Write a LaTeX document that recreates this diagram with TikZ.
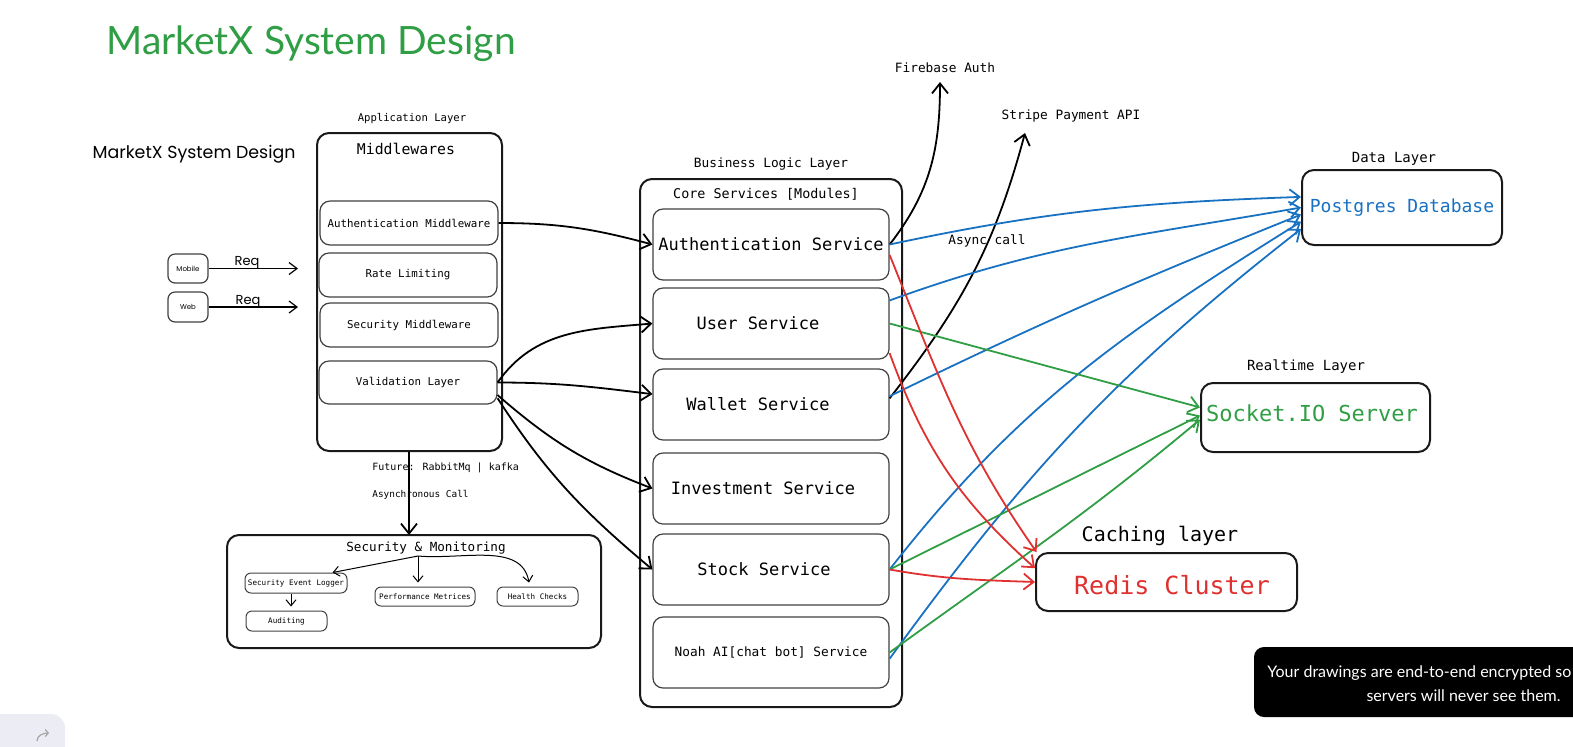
\documentclass[tikz,border=0pt]{standalone}
\usepackage{fontspec}
\setmainfont{DejaVu Sans Mono}
\newfontfamily\titlefont{Lato}
\newfontfamily\handfont{Poppins}
\newfontfamily\uifont{Lato}
\usetikzlibrary{arrows.meta}
\definecolor{exgreen}{HTML}{2F9E44}
\definecolor{exblue}{HTML}{1971C2}
\definecolor{exred}{HTML}{E03131}
\definecolor{panel}{HTML}{ECECF4}
\newcommand{\fsz}[1]{\fontsize{#1}{#1}\selectfont}
\tikzset{
  outer/.style={draw=black!90, line width=1pt, rounded corners=6pt, inner sep=0pt},
  inbox/.style={draw=black!75, line width=0.6pt, rounded corners=5pt, inner sep=0pt},
  svc/.style={inbox, minimum width=118pt, minimum height=35.5pt, font=\fsz{8.5}},
  midbox/.style={inbox, minimum width=89pt, minimum height=22pt, font=\fsz{5.4}},
  tinybox/.style={draw=black!75, line width=0.5pt, rounded corners=3pt, inner sep=0pt, font=\fsz{3.8}},
  client/.style={draw=black!75, line width=0.6pt, rounded corners=3.5pt, inner sep=0pt, font=\handfont\fsz{3.5}},
  lbl/.style={inner sep=0pt, yshift=-1pt},
  arr/.style={line width=0.9pt, -{Straight Barb[length=5pt,width=8pt]}},
  sarr/.style={line width=0.5pt, -{Straight Barb[length=3pt,width=5pt]}},
  blarr/.style={arr, draw=exblue},
  grarr/.style={arr, draw=exgreen},
  rdarr/.style={arr, draw=exred},
}
\begin{document}
\begin{tikzpicture}[x=0.5pt, y=-0.5pt]
\useasboundingbox (0,0) rectangle (1573,746);

% UI overlays
\begin{scope}
  \clip (0,0) rectangle (1573,746);
  \fill[black, rounded corners=5pt] (1254,647) rectangle (1620,717);
  \fill[panel, rounded corners=7pt] (-20,714) rectangle (65,780);
\end{scope}
\node[lbl, text=white, font=\uifont\fsz{8}, anchor=west] (toasta) at (1267,671) {Your drawings are end-to-end encrypted so};
\node[lbl, text=white, font=\uifont\fsz{8}, anchor=east] (toastb) at (1561,694) {servers will never see them.};
\coordinate (redoa) at (37,741);
\coordinate (redob) at (49,733);
\draw[black!35, line width=0.6pt, -{Straight Barb[length=1.5pt,width=3.5pt]}] (redoa) to[out=90,in=180] (redob);

% titles
\node[lbl, text=exgreen, font=\titlefont\fsz{19.5}] (title) at (311,42) {MarketX System Design};
\node[lbl, font=\handfont\fsz{8.7}] (hand) at (194,152) {MarketX System Design};

% clients
\node[client, minimum width=20pt, minimum height=14.5pt] (mob) at (188,268.5) {Mobile};
\node[client, minimum width=20pt, minimum height=15pt] (web) at (188,307) {Web};
\coordinate (mobend) at (298,270);
\coordinate (webend) at (298,309);
\draw[sarr, line width=0.6pt, -{Straight Barb[length=4pt,width=6pt]}] (mob.east) -- (mob.east -| mobend);
\draw[sarr, line width=0.6pt, -{Straight Barb[length=4pt,width=6pt]}] (web.east) -- (web.east -| webend);
\node[lbl, font=\handfont\fsz{6.5}] (reqa) at (247,261) {Req};
\node[lbl, font=\handfont\fsz{6.5}] (reqb) at (248,300) {Req};

% application layer
\node[lbl, font=\fsz{5.3}] (applbl) at (412,117) {Application Layer};
\node[outer, minimum width=92.5pt, minimum height=159pt] (mw) at (409.5,292) {};
\node[lbl, font=\fsz{7.4}] (mwt) at (406,147) {Middlewares};
\node[midbox] (amw) at (409,223) {Authentication Middleware};
\node[midbox] (rl) at (408,275) {Rate Limiting};
\node[midbox] (smw) at (409,325) {Security Middleware};
\node[midbox, minimum height=21.5pt] (vl) at (408,382.5) {Validation Layer};

% security & monitoring
\node[outer, minimum width=187pt, minimum height=56.5pt] (sm) at (414,591.5) {};
\node[lbl, font=\fsz{6.3}] (smt) at (426,546) {Security \& Monitoring};
\coordinate (smh) at (418,556);
\node[tinybox, minimum width=51pt, minimum height=10pt] (sel) at (296,583) {Security Event Logger};
\node[tinybox, minimum width=40.5pt, minimum height=10pt] (aud) at (286.5,621) {Auditing};
\node[tinybox, minimum width=50pt, minimum height=9.5pt] (pm) at (425,596.5) {Performance Metrices};
\node[tinybox, minimum width=40.5pt, minimum height=9.5pt] (hc) at (537.5,596.5) {Health Checks};
\draw[sarr] (smh) -- (sel.16);
\draw[sarr, shorten >=2pt] (smh) -- (smh |- pm.north);
\draw[sarr, shorten >=2pt] (smh) to[out=-5,in=100] (hc.128);
\draw[sarr, shorten >=2pt] (sel.south -| aud.north) ++(4.5,0) coordinate (selb) -- (selb |- aud.north);

\draw[arr] (mw.south -| 409,0) -- (409,535) coordinate (smtop);
\node[lbl, font=\fsz{5}, anchor=west] (fut) at (372,466) {Future: RabbitMq | kafka};
\node[lbl, font=\fsz{4.7}, anchor=west] (asy) at (372,493) {Asynchronous Call};

% business logic layer
\node[lbl, font=\fsz{6.4}] (bll) at (771,162) {Business Logic Layer};
\node[outer, minimum width=131pt, minimum height=264pt] (core) at (771,443) {};
\node[lbl, font=\fsz{6.7}] (coret) at (766,192) {Core Services [Modules]};
\node[svc] (auth) at (771,244.5) {Authentication Service};
\node[svc] (user) at (771,323.5) {\hspace*{-13pt}User Service};
\node[svc] (wallet) at (771,404.5) {\hspace*{-13pt}Wallet Service};
\node[svc] (invest) at (771,488.5) {\hspace*{-8pt}Investment Service};
\node[svc] (stock) at (771,569.5) {\hspace*{-7pt}Stock Service};
\node[svc, font=\fsz{6.4}] (noah) at (771,652.5) {Noah AI[chat bot] Service};

% external
\node[lbl, font=\fsz{6.4}] (fb) at (945,66) {Firebase Auth};
\coordinate (fbp) at (940,82);
\node[lbl, font=\fsz{6.4}] (st) at (1071,114) {Stripe Payment API};
\coordinate (stp) at (1025,133);
\node[lbl, font=\fsz{6.4}] (asc) at (987,239) {Async call};

% data / realtime / caching
\node[lbl, font=\fsz{7}] (dl) at (1394,157) {Data Layer};
\node[outer, minimum width=100pt, minimum height=37.5pt, text=exblue, font=\fsz{9}] (pg) at (1402,207.5) {Postgres Database};
\node[lbl, font=\fsz{7}] (rtl) at (1306,365) {Realtime Layer};
\node[outer, minimum width=114.5pt, minimum height=34.5pt] (sock) at (1315.5,417.5) {};
\node[lbl, text=exgreen, font=\fsz{11}] (sockt) at (1312,411) {Socket.IO Server};
\node[lbl, font=\fsz{10}] (cl) at (1160,534) {Caching layer};
\node[outer, minimum width=130.5pt, minimum height=29pt] (redis) at (1166.5,582) {};
\node[lbl, text=exred, font=\fsz{12.5}] (redist) at (1172,583) {Redis Cluster};

% middleware -> services
\draw[arr] (amw.east) to[out=0,in=165] (auth.west);
\draw[arr] (vl.east) to[out=55,in=185] (user.west);
\draw[arr] (vl.east) to[out=0,in=173] (wallet.175);
\draw[arr] (vl.-8) to[out=-41,in=159] (invest.west);
\draw[arr] (vl.-10) to[out=-57,in=140] (stock.west);

% external calls
\draw[arr] (auth.east) to[out=52,in=-90] (fbp);
\draw[arr] (wallet.3) to[out=52,in=-105] (stp);

% postgres
\draw[blarr] (auth.east) to[out=12,in=182] (pg.174);
\draw[blarr] (user.11) to[out=20,in=190] (pg.180);
\draw[blarr] (wallet.4) to[out=26,in=202] (pg.184);
\draw[blarr] (stock.east) to[out=52,in=212] (pg.188);
\draw[blarr] (noah.-3) to[out=54,in=218] (pg.192);

% socket.io
\draw[grarr] (user.east) -- (sock.175);
\draw[grarr] (stock.east) -- (sock.179);
\draw[grarr] (noah.east) to[out=36,in=220] (sock.181);

% redis
\draw[rdarr] (auth.-5) to[out=-68,in=125] (redis.167);
\draw[rdarr] (user.-14) to[out=-70,in=138] (redis.174);
\draw[rdarr] (stock.east) to[out=-10,in=178] (redis.west);
\end{tikzpicture}
\end{document}
